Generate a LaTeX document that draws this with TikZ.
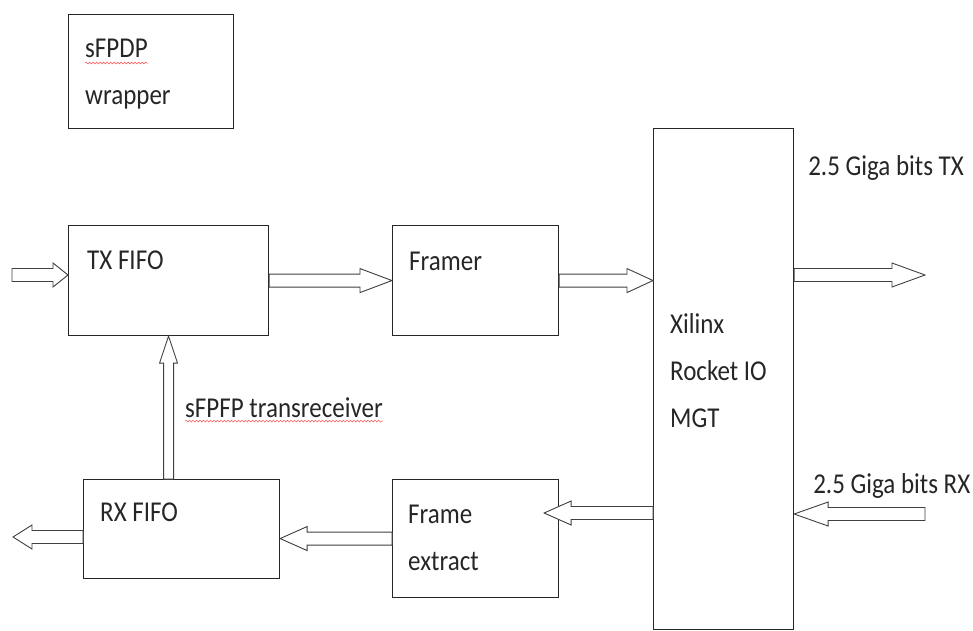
\documentclass[tikz,border=0pt]{standalone}
\usepackage{fontspec}
\setmainfont{Carlito}
\usepackage{graphicx}
\usetikzlibrary{calc, decorations.pathmorphing}
% text lines, first baseline on top, a little taller than wide
\newcommand{\lbl}[1]{\scalebox{1}[1.15]{\begin{tabular}[t]{@{}l@{}}#1\end{tabular}}}
\tikzset{
  box/.style={rectangle, draw=black!85, line width=1.1pt, anchor=north west,
              inner sep=0pt},
  txt/.style={inner sep=0pt, anchor=base west, text=black!85,
              font=\fontsize{25}{41}\selectfont},
  fat len/.store in=\fatlen, fat len=27pt,
  fat w/.store in=\fatw, fat w=6.5pt,
  fat head/.store in=\fathead, fat head=12pt,
  fat/.style={draw=black!75, fill=white, line width=0.9pt, line join=miter,
    to path={($(\tikztotarget)!\fatlen!(\tikztostart)$) coordinate (hb)
      ($(\tikztostart)!\fatw!90:(\tikztotarget)$)
      -- ($(hb)!\fatw!90:(\tikztotarget)$) -- ($(hb)!\fathead!90:(\tikztotarget)$)
      -- (\tikztotarget)
      -- ($(hb)!\fathead!-90:(\tikztotarget)$) -- ($(hb)!\fatw!-90:(\tikztotarget)$)
      -- ($(\tikztostart)!\fatw!-90:(\tikztotarget)$) -- cycle}},
  squiggle/.style={draw=red!70, line width=0.5pt, decorate,
                   decoration={snake, segment length=3.5pt, amplitude=0.9pt}},
}

\begin{document}
\begin{tikzpicture}[x=1pt, y=-1pt]
  \useasboundingbox (0,0) rectangle (973,630);
  \clip (0,0) rectangle (973,630);

  % blocks
  \node[box, minimum width=165pt, minimum height=114pt] (wrap)   at (68,14)   {};
  \node[box, minimum width=200pt, minimum height=110pt] (txfifo) at (68,225)  {};
  \node[box, minimum width=166pt, minimum height=110pt] (framer) at (392,225) {};
  \node[box, minimum width=196pt, minimum height=99pt]  (rxfifo) at (83,479)  {};
  \node[box, minimum width=166pt, minimum height=118pt] (fe)     at (392,479) {};
  \node[box, minimum width=140pt, minimum height=501pt] (mgt)    at (653,128) {};

  % texts
  \node[txt] (wraptxt) at ([shift={(17,43)}]wrap.north west)   {\lbl{sFPDP\\wrapper}};
  \node[txt] (txtxt)   at ([shift={(19,44)}]txfifo.north west) {\lbl{TX FIFO}};
  \node[txt] (frtxt)   at ([shift={(17,45)}]framer.north west) {\lbl{Framer}};
  \node[txt] (rxtxt)   at ([shift={(17,42)}]rxfifo.north west) {\lbl{RX FIFO}};
  \node[txt] (fetxt)   at ([shift={(16,44)}]fe.north west)     {\lbl{Frame\\extract}};
  \node[txt] (mgttxt)  at ([shift={(17,205)}]mgt.north west)   {\lbl{Xilinx\\Rocket IO\\MGT}};
  \node[txt] (gtx)     at ([shift={(14,47)}]mgt.north east)    {\lbl{2.5 Giga bits TX}};
  \node[txt] (grx)     at ([shift={(19,365)}]mgt.north east)   {\lbl{2.5 Giga bits RX}};
  \node[txt] (trx)     at ([shift={(117,81)}]txfifo.south west) {\lbl{sFPFP transreceiver}};

  \draw[squiggle] ([shift={(0,6)}]wraptxt.base west) -- ++(63,0);
  \draw[squiggle] ([shift={(0,4)}]trx.base west) -- ([shift={(0,4)}]trx.base east);

  % free ends
  \coordinate (txin)  at (12,275);
  \coordinate (txout) at (925,275);
  \coordinate (rxin)  at (925,514);
  \coordinate (rxout) at (13,537);
  \coordinate (mgtrx) at ([yshift=-34pt]fe.north -| mgt.west);
  \coordinate (fetip) at ([xshift=-15pt]mgtrx -| fe.east);

  % data paths
  \draw[fat, fat len=15pt] (txin) to (txin -| txfifo.west);
  \draw[fat, fat len=32pt] (txfifo.east) to (framer.west);
  \draw[fat, fat len=26pt] (framer.east) to (framer.east -| mgt.west);
  \draw[fat, fat len=33pt] (txout -| mgt.east) to (txout);
  \draw[fat, fat len=34pt] (rxin) to (rxin -| mgt.east);
  \draw[fat] (mgtrx) to (fetip);
  \draw[fat] (fe.west) to (fe.west -| rxfifo.east);
  \draw[fat, fat len=19pt] (rxfifo.west |- rxout) to (rxout);
  \draw[fat, fat w=5pt, fat head=9pt] (rxfifo.north -| txfifo.south) to (txfifo.south);
\end{tikzpicture}
\end{document}
